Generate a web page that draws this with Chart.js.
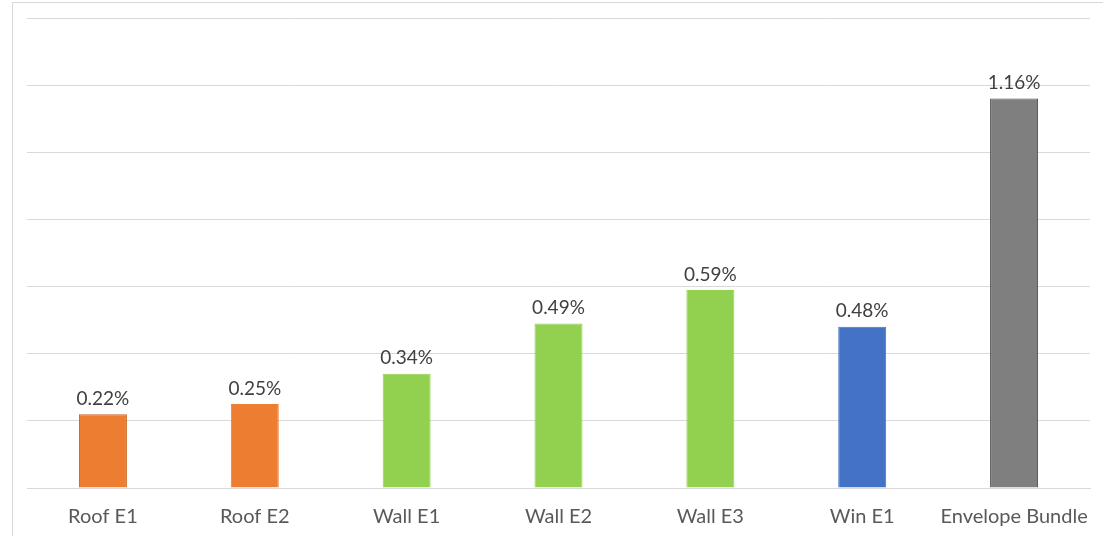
<!DOCTYPE html>
<html>
<head>
<meta charset="utf-8">
<script src="https://cdn.jsdelivr.net/npm/chart.js@4.4.1/dist/chart.umd.min.js"></script>
<style>
  html, body { margin: 0; padding: 0; background: #fff; overflow: hidden; }
  #wrap { position: relative; width: 1103px; height: 536px; }
  #frame {
    position: absolute; left: 12px; top: 2px; width: 1200px; height: 600px;
    border-left: 1px solid #d9d9d9; border-top: 1px solid #d9d9d9;
  }
  canvas { position: absolute; left: 0; top: 0; }
</style>
</head>
<body>
<div id="wrap">
  <div id="frame"></div>
  <canvas id="chart" width="1103" height="536"></canvas>
</div>
<script>
/* ======================================================
   Data
=========================================================*/
const categories = ["Roof E1", "Roof E2", "Wall E1", "Wall E2", "Wall E3", "Win E1", "Envelope Bundle"];
const savings = [0.22, 0.25, 0.34, 0.49, 0.59, 0.48, 1.16];
const barColors = ["#ED7D31", "#ED7D31", "#92D050", "#92D050", "#92D050", "#4472C4", "#7F7F7F"];
const barBorders = ["#C8641F", "#ED7D31", "#92D050", "#92D050", "#92D050", "#4472C4", "#4F4F4F"];
const yTicks = [0, 0.2, 0.4, 0.6, 0.8, 1.0, 1.2, 1.4];

const FONT = "Lato, 'Open Sans', sans-serif";

/* ======================================================
   Value labels above bars
=========================================================*/
const valueLabels = {
  id: "valueLabels",
  afterDatasetsDraw(chart) {
    const ctx = chart.ctx;
    const meta = chart.getDatasetMeta(0);
    ctx.save();
    ctx.font = "19px " + FONT;
    ctx.fillStyle = "#404040";
    ctx.textAlign = "center";
    ctx.textBaseline = "bottom";
    meta.data.forEach((bar, i) => {
      ctx.fillText(savings[i].toFixed(2) + "%", bar.x, bar.y - 6);
    });
    ctx.restore();
  }
};

new Chart(document.getElementById("chart"), {
  type: "bar",
  data: {
    labels: categories,
    datasets: [{
      data: savings,
      backgroundColor: barColors,
      borderColor: barBorders,
      borderWidth: 1,
      barPercentage: 0.316,
      categoryPercentage: 1
    }]
  },
  options: {
    responsive: false,
    animation: false,
    layout: { padding: { left: 27, right: 13, top: 18, bottom: 0 } },
    plugins: { legend: { display: false }, tooltip: { enabled: false } },
    scales: {
      x: {
        grid: { display: false },
        border: { color: "#d9d9d9", width: 1 },
        ticks: { color: "#595959", font: { family: FONT, size: 20 }, padding: 9, maxRotation: 0 },
        afterFit(axis) { axis.height = 48; }
      },
      y: {
        min: 0,
        max: 1.4,
        afterBuildTicks(axis) { axis.ticks = yTicks.map(v => ({ value: v })); },
        grid: { color: "#d9d9d9", drawTicks: false },
        border: { display: false },
        ticks: { display: false }
      }
    }
  },
  plugins: [valueLabels]
});
</script>
</body>
</html>
